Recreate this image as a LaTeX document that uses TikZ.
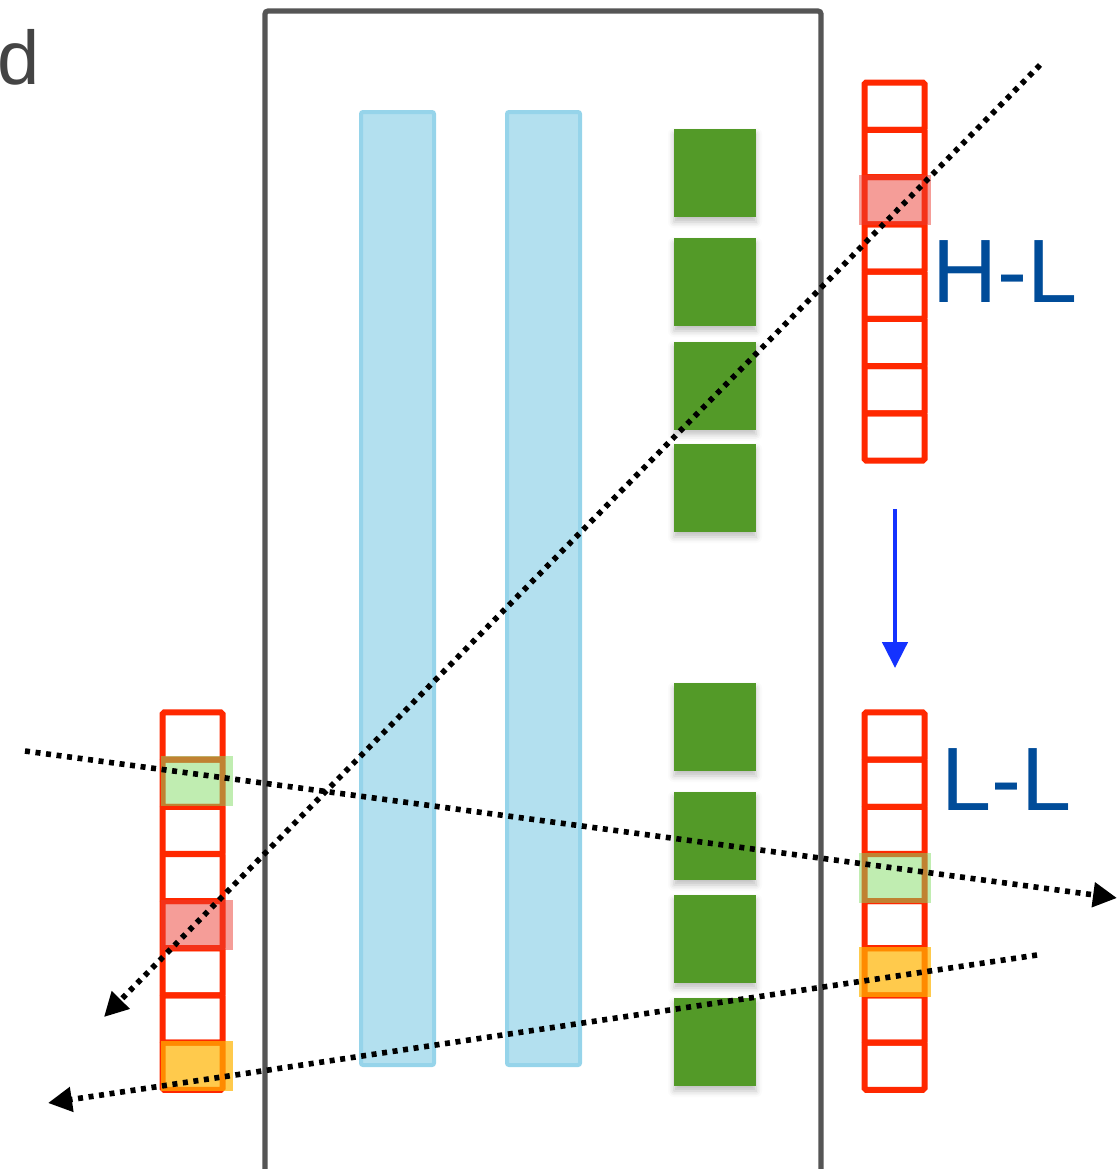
\documentclass[tikz,border=0pt]{standalone}
\usepackage{fontspec}
\setmainfont{Liberation Sans}
\usetikzlibrary{arrows.meta,shadows.blur}
\definecolor{boxgray}{RGB}{85,85,85}
\definecolor{barfill}{RGB}{179,224,239}
\definecolor{barline}{RGB}{150,212,234}
\definecolor{sqgreen}{RGB}{83,154,40}
\definecolor{cellred}{RGB}{255,40,0}
\definecolor{hlgreen}{RGB}{130,220,100}
\definecolor{hlred}{RGB}{235,60,50}
\definecolor{hlorange}{RGB}{255,180,0}
\definecolor{labelblue}{RGB}{0,76,153}
\definecolor{arrowblue}{RGB}{20,50,255}
\definecolor{dgray}{RGB}{68,68,68}
\tikzset{
  bluebar/.style={draw=barline, fill=barfill, line width=2pt, minimum width=36.5pt, minimum height=476.5pt, inner sep=0pt, outer sep=0pt, rounded corners=1pt},
  gsquare/.style={fill=sqgreen, minimum width=41pt, minimum height=44pt, inner sep=0pt, outer sep=0pt,
    blur shadow={shadow xshift=0pt, shadow yshift=-2.5pt, shadow blur radius=3pt, shadow opacity=25}},
  cellbox/.style={draw=cellred, line width=3pt, minimum width=30pt, minimum height=23.625pt, inner sep=0pt, outer sep=0pt, rounded corners=0.8pt},
  hlbox/.style={minimum width=36pt, minimum height=25pt, inner sep=0pt, outer sep=0pt},
  hlg/.style={hlbox, fill=hlgreen, fill opacity=0.5},
  hlr/.style={hlbox, fill=hlred, fill opacity=0.5},
  hlo/.style={hlbox, fill=hlorange, fill opacity=0.7},
  dotline/.style={black, line width=2.8pt, dash pattern=on 2.5pt off 2.8pt, -{Triangle[length=12pt,width=12pt]}},
  tag/.style={text=labelblue, font=\fontsize{45pt}{50pt}\selectfont, inner sep=0pt, anchor=base west}
}
\begin{document}
\begin{tikzpicture}[x=0.5pt,y=-0.5pt]
\useasboundingbox (0,0) rectangle (1117,1169);
% outer frame
\draw[boxgray, line width=2.6pt, rounded corners=1.5pt] (265,1180) -- (265,11) -- (821,11) -- (821,1180);
% label d
\node[text=dgray, font=\fontsize{38pt}{42pt}\selectfont, inner sep=0pt, anchor=base west] (dlab) at (-3,84) {d};
% blue bars
\node[bluebar] (bar1) at (397.5,588.5) {};
\node[bluebar] (bar2) at (543.5,588.5) {};
% green squares
\foreach \i/\y in {1/173,2/282,3/385.5,4/488,5/727,6/836,7/939,8/1042}
  \node[gsquare] (g\i) at (715,\y) {};
% right top column
\foreach \i in {0,...,7}
  \node[cellbox] (rt\i) at (894.5,{82.5+47.25*(\i+0.5)}) {};
% right bottom column
\foreach \i in {0,...,7}
  \node[cellbox] (rb\i) at (894.5,{712.5+47.15*(\i+0.5)}) {};
% left column
\foreach \i in {0,...,7}
  \node[cellbox] (lc\i) at (192.5,{712.5+47.15*(\i+0.5)}) {};
% highlights
\node[hlr] (hrt) at ([yshift=0.5pt]rt2) {};
\node[hlg] (hrb) at (rb3) {};
\node[hlo] (hrb2) at (rb5) {};
\node[hlg] (hlc1) at ([xshift=2pt,yshift=1pt]lc1) {};
\node[hlr] (hlc4) at ([xshift=2pt]lc4) {};
\node[hlo] (hlc7) at ([xshift=2pt]lc7) {};
% labels
\node[tag] (hl) at (932,302) {H-L};
\node[tag] (ll) at (941,810) {L-L};
% blue arrow
\coordinate (ba1) at (895,509);
\coordinate (ba2) at (895,668);
\draw[arrowblue, line width=2.3pt, -{Triangle[length=13pt,width=12.5pt]}] (ba1) -- (ba2);
% dotted lines
\coordinate (p1s) at (1040,65);
\coordinate (p1e) at (104,1017);
\coordinate (p2s) at (25,751);
\coordinate (p2e) at (1117,898);
\coordinate (p3s) at (1037,955);
\coordinate (p3e) at (48,1103);
\draw[dotline] (p1s) -- (p1e);
\draw[dotline] (p2s) -- (p2e);
\draw[dotline] (p3s) -- (p3e);
\end{tikzpicture}
\end{document}
